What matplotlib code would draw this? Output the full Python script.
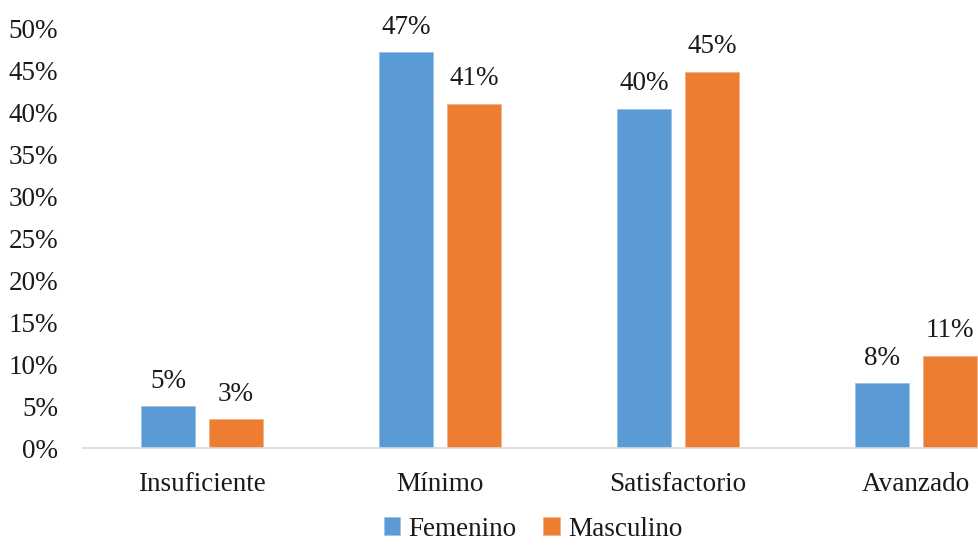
import matplotlib
matplotlib.use("Agg")
import matplotlib.pyplot as plt
import numpy as np
from matplotlib.ticker import FuncFormatter

categories = ["Insuficiente", "Mínimo", "Satisfactorio", "Avanzado"]
femenino = [5.0, 47.1, 40.4, 7.7]
masculino = [3.4, 41.0, 44.8, 11.0]
series_names = ["Femenino", "Masculino"]
colors = ["#5B9BD5", "#ED7D31"]
yticks = [0, 5, 10, 15, 20, 25, 30, 35, 40, 45, 50]

plt.rcParams['font.family'] = ['Liberation Serif', 'DejaVu Serif']
fig = plt.figure(figsize=(9.79, 5.47), dpi=100)
W, H = 979, 547
left, right, top, bottom = 83, 83 + 4 * 238, 28, 448
ax = fig.add_axes([left / W, 1 - bottom / H, (right - left) / W, (bottom - top) / H])

x = np.arange(len(categories))
bw = 0.223
off = 0.143
b1 = ax.bar(x - off, femenino, bw, color=colors[0], label=series_names[0],
            edgecolor="#9DC3E6", linewidth=0.6)
b2 = ax.bar(x + off, masculino, bw, color=colors[1], label=series_names[1],
            edgecolor="#F4B183", linewidth=0.6)
fs = 19.5
for bars, vals in ((b1, femenino), (b2, masculino)):
    for r, v in zip(bars, vals):
        ax.annotate(f"{v:.0f}%", (r.get_x() + r.get_width() / 2, v),
                    xytext=(0, 9), textcoords="offset points",
                    ha="center", va="bottom", fontsize=fs, color="#1a1a1a")

ax.set_xlim(-0.5, len(categories) - 0.5)
ax.set_ylim(0, 50)
ax.set_yticks(yticks)
ax.yaxis.set_major_formatter(FuncFormatter(lambda v, p: f"{v:.0f}%"))
ax.set_xticks(x)
ax.set_xticklabels(categories)
ax.tick_params(axis="both", length=0, labelsize=fs, colors="#1a1a1a")
ax.tick_params(axis="y", pad=18)
ax.tick_params(axis="x", pad=17)
for s in ["top", "right", "left"]:
    ax.spines[s].set_visible(False)
ax.spines["bottom"].set_color("#D9D9D9")
ax.spines["bottom"].set_linewidth(1.2)

fig.legend(handles=[b1, b2], labels=series_names, loc="lower center",
           bbox_to_anchor=(533 / W, 0.0), ncol=2, frameon=False,
           fontsize=fs, handlelength=0.6, handleheight=0.6, handletextpad=0.3,
           columnspacing=1.0, labelcolor="#1a1a1a", borderpad=0.1,
           borderaxespad=0.1)

fig.savefig("out.png", dpi=100)
